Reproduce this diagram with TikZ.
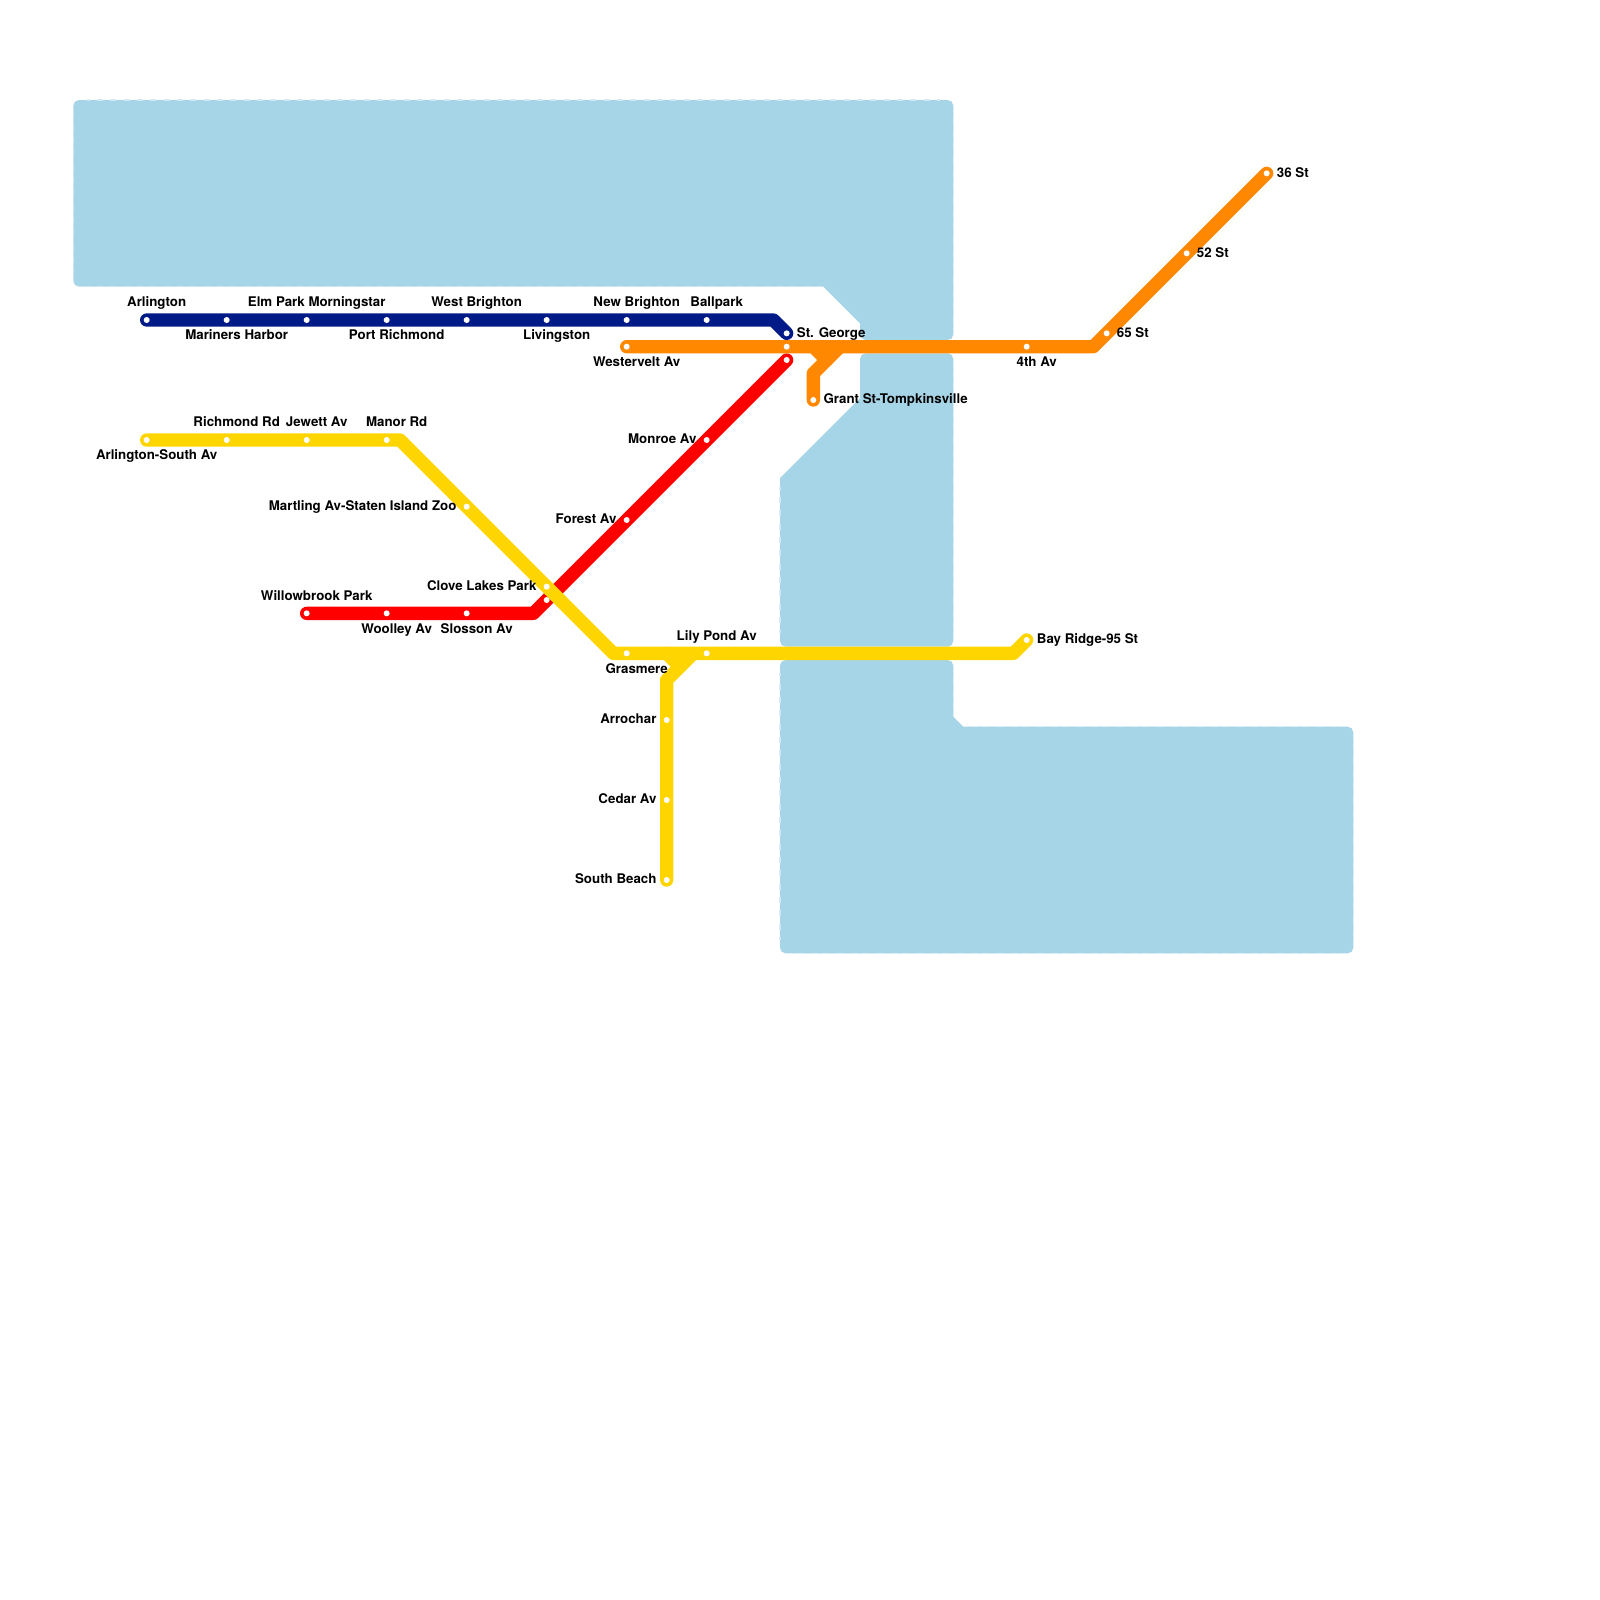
\documentclass[tikz,border=0pt]{standalone}
\usepackage{fontspec}
\setmainfont{TeX Gyre Heros}
\definecolor{water}{HTML}{A6D5E7}
\definecolor{seamcol}{HTML}{D2EAF3}
\definecolor{lnblue}{HTML}{001B87}
\definecolor{lnorange}{HTML}{FF8800}
\definecolor{lnyellow}{HTML}{FFD500}
\definecolor{lnred}{HTML}{FF0000}
\tikzset{
  waterblock/.style={fill=water,draw=none,rounded corners=6pt},
  seam/.style={draw=seamcol,line width=1.4pt,dash pattern=on 6.4pt off 7.826pt,dash phase=3.2pt},
  route/.style={line width=14.226pt,line cap=round,line join=round},
  dot/.style={circle,fill=white,draw=none,minimum size=6.4pt,inner sep=0pt},
  lab/.style={font=\fontsize{14.2pt}{16pt}\selectfont\bfseries,text=black,inner sep=0pt},
  la/.style={lab,anchor=base,xshift=10.7pt,yshift=14.2pt},
  lb/.style={lab,anchor=base,xshift=10.7pt,yshift=-21pt},
  ll/.style={lab,anchor=base east,xshift=-10.7pt,yshift=-4pt},
  lr/.style={lab,anchor=base west,xshift=10.7pt,yshift=-4pt},
}
\begin{document}
\begin{tikzpicture}[x=0.5cm,y=-0.5cm]
\useasboundingbox (0,0) rectangle (120,120);
% water
\fill[waterblock] (5.5,7.5) -- (71.5,7.5) -- (71.5,25.5) -- (64.5,25.5) [sharp corners] -- (64.5,24.25) -- (61.75,21.5) [rounded corners=6pt] -- (5.5,21.5) -- cycle;
\fill[waterblock] (64.5,26.5) -- (71.5,26.5) -- (71.5,48.5) -- (58.5,48.5) [sharp corners] -- (58.5,35.85) -- (64.5,29.85) [rounded corners=6pt] -- cycle;
\fill[waterblock] (58.5,49.5) -- (71.5,49.5) [sharp corners] -- (71.5,53.75) -- (72.25,54.5) [rounded corners=6pt] -- (101.5,54.5) -- (101.5,71.5) -- (58.5,71.5) -- cycle;
% seams between the water tiles, along the outer edges
\draw[seam] (6.5,7.5) -- (70.5,7.5);
\draw[seam] (6.5,21.5) -- (61.5,21.5);
\draw[seam] (5.5,8.5) -- (5.5,20.5);
\draw[seam] (71.5,8.5) -- (71.5,24.5);
\draw[seam] (71.5,27.5) -- (71.5,47.5);
\draw[seam] (71.5,50.5) -- (71.5,53.5);
\draw[seam] (58.5,36.5) -- (58.5,47.5);
\draw[seam] (58.5,50.5) -- (58.5,70.5);
\draw[seam] (59.5,71.5) -- (100.5,71.5);
\draw[seam] (72.5,54.5) -- (100.5,54.5);
\draw[seam] (101.5,55.5) -- (101.5,70.5);
% connector bends
\coordinate (bBlue) at (58,24);
\coordinate (bOrA) at (82,26);
\coordinate (bOrB) at (61,28);
\coordinate (bOrC) at (63,26);
\coordinate (bOrD) at (61,26);
\coordinate (bOrE) at (62,27);
\coordinate (bRed) at (40,46);
\coordinate (bYeA) at (30,33);
\coordinate (bYeB) at (46,49);
\coordinate (bYeC) at (76,49);
\coordinate (bYeD) at (50,51);
\coordinate (bYeE) at (52,49);
\coordinate (bYeF) at (50,49);
\coordinate (bYeG) at (51,50);
% stations
\node[dot] (s1) at (11,24) {};
\node[dot] (s2) at (17,24) {};
\node[dot] (s3) at (23,24) {};
\node[dot] (s4) at (29,24) {};
\node[dot] (s5) at (35,24) {};
\node[dot] (s6) at (41,24) {};
\node[dot] (s7) at (47,24) {};
\node[dot] (s8) at (53,24) {};
\node[dot] (s9) at (59,25) {};
\node[dot] (o1) at (47,26) {};
\node[dot] (o2) at (59,26) {};
\node[dot] (o3) at (77,26) {};
\node[dot] (o4) at (83,25) {};
\node[dot] (o5) at (89,19) {};
\node[dot] (o6) at (95,13) {};
\node[dot] (o7) at (61,30) {};
\node[dot] (r1) at (23,46) {};
\node[dot] (r2) at (29,46) {};
\node[dot] (r3) at (35,46) {};
\node[dot] (r4) at (41,45) {};
\node[dot] (r5) at (47,39) {};
\node[dot] (r6) at (53,33) {};
\node[dot] (r7) at (59,27) {};
\node[dot] (y1) at (11,33) {};
\node[dot] (y2) at (17,33) {};
\node[dot] (y3) at (23,33) {};
\node[dot] (y4) at (29,33) {};
\node[dot] (y5) at (35,38) {};
\node[dot] (y6) at (41,44) {};
\node[dot] (y7) at (47,49) {};
\node[dot] (y8) at (53,49) {};
\node[dot] (y9) at (77,48) {};
\node[dot] (y10) at (50,54) {};
\node[dot] (y11) at (50,60) {};
\node[dot] (y12) at (50,66) {};
% routes
\draw[route,lnblue] (s1.center) -- (bBlue) -- (s9.center);
\draw[route,lnred] (r1.center) -- (bRed) -- (r7.center);
\draw[route,lnorange] (o1.center) -- (bOrA) -- (o6.center);
\draw[route,lnorange] (o7.center) -- (bOrB) -- (bOrC);
\draw[route,lnorange] (bOrD) -- (bOrE);
\draw[route,lnyellow] (y1.center) -- (bYeA) -- (bYeB) -- (bYeC) -- (y9.center);
\draw[route,lnyellow] (y12.center) -- (bYeD) -- (bYeE);
\draw[route,lnyellow] (bYeF) -- (bYeG);
% station dots redrawn above the routes
\foreach \s in {s1,s2,s3,s4,s5,s6,s7,s8,s9,o1,o2,o3,o4,o5,o6,o7,r1,r2,r3,r4,r5,r6,r7,y1,y2,y3,y4,y5,y6,y7,y8,y9,y10,y11,y12}
  \fill[white] (\s) circle (3.2pt);
% labels
\node[la] (ls1) at (s1) {Arlington};
\node[lb] (ls2) at (s2) {Mariners Harbor};
\node[la] (ls3) at (s3) {Elm Park Morningstar};
\node[lb] (ls5) at (s4) {Port Richmond};
\node[la] (ls6) at (s5) {West Brighton};
\node[lb] (ls7) at (s6) {Livingston};
\node[la] (ls8) at (s7) {New Brighton};
\node[la] (ls9) at (s8) {Ballpark};
\node[lr] (ls10) at (s9) {St. George};
\node[lb] (lo1) at (o1) {Westervelt Av};
\node[lb] (lo3) at (o3) {4th Av};
\node[lr] (lo4) at (o4) {65 St};
\node[lr] (lo5) at (o5) {52 St};
\node[lr] (lo6) at (o6) {36 St};
\node[lr] (lo7) at (o7) {Grant St-Tompkinsville};
\node[la] (lr1) at (r1) {Willowbrook Park};
\node[lb] (lr2) at (r2) {Woolley Av};
\node[lb] (lr3) at (r3) {Slosson Av};
\node[ll] (lr5) at (r5) {Forest Av};
\node[ll] (lr6) at (r6) {Monroe Av};
\node[lb] (ly1) at (y1) {Arlington-South Av};
\node[la] (ly2) at (y2) {Richmond Rd};
\node[la] (ly3) at (y3) {Jewett Av};
\node[la] (ly4) at (y4) {Manor Rd};
\node[ll] (ly5) at (y5) {Martling Av-Staten Island Zoo};
\node[ll] (ly6) at (y6) {Clove Lakes Park};
\node[lb] (ly7) at (y7) {Grasmere};
\node[la] (ly8) at (y8) {Lily Pond Av};
\node[lr] (ly9) at (y9) {Bay Ridge-95 St};
\node[ll] (ly10) at (y10) {Arrochar};
\node[ll] (ly11) at (y11) {Cedar Av};
\node[ll] (ly12) at (y12) {South Beach};
\end{tikzpicture}
\end{document}
